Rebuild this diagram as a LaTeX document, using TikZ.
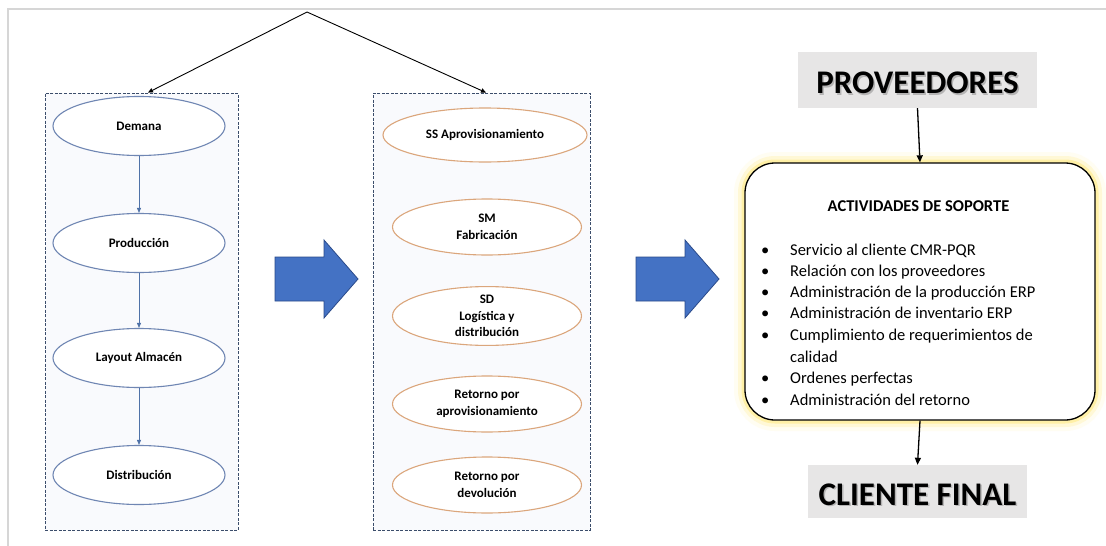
\documentclass[tikz,border=0pt]{standalone}
\usepackage{fontspec}
\setmainfont{Carlito}
\usetikzlibrary{arrows.meta,shapes.geometric}

\definecolor{framegray}{HTML}{D6D6D6}
\definecolor{dashcol}{HTML}{3B4D6B}
\definecolor{boxfill}{HTML}{F9FAFD}
\definecolor{lellcol}{HTML}{6F86B3}
\definecolor{lellarrow}{HTML}{4F72A8}
\definecolor{rellcol}{HTML}{DBA67C}
\definecolor{arrowfill}{HTML}{4472C4}
\definecolor{arrowdraw}{HTML}{2A4A8A}
\definecolor{grayfill}{HTML}{E7E6E6}
\definecolor{glowA}{HTML}{FFFDF2}
\definecolor{glowB}{HTML}{FFF8D6}
\definecolor{glowC}{HTML}{FFF0A6}

\tikzset{
  dashbox/.style={draw=dashcol, line width=0.9pt, dash pattern=on 3pt off 1.5pt,
    fill=boxfill, inner sep=0},
  lell/.style={ellipse, draw=lellcol, line width=1.1pt, fill=white,
    minimum width=172pt, minimum height=59pt, inner sep=0, align=center,
    font=\bfseries\fontsize{13}{16.5}\selectfont},
  rell/.style={ellipse, draw=rellcol, line width=1.1pt, fill=white,
    minimum width=189pt, minimum height=56pt, inner sep=0, align=center,
    font=\bfseries\fontsize{13}{16.5}\selectfont},
  flowarrow/.style={draw=lellarrow, line width=0.8pt, -{Triangle[length=5pt,width=4pt]}},
  toparrow/.style={draw=black, line width=0.9pt, -{Triangle[length=5pt,width=4.5pt]}},
  blockarrow/.style={fill=arrowfill, draw=arrowdraw, line width=0.8pt, line join=miter},
  graybox/.style={fill=grayfill, draw=none, inner sep=0},
  bigtitle/.style={font=\bfseries\fontsize{33}{36}\selectfont, inner sep=0},
  titleshadow/.style={bigtitle, text=black!45, opacity=0.55},
  vertarrow/.style={draw=black, line width=1.3pt, -{Triangle[length=7pt,width=6pt]}},
  soporte/.style={draw=black, line width=1.3pt, fill=white, rounded corners=30pt,
    minimum width=350pt, minimum height=257pt, inner sep=0},
  glow/.style={rounded corners=30pt, line width=#1},
  listtext/.style={anchor=base west, inner sep=0, font=\fontsize{16.5}{20}\selectfont},
}

\begin{document}
\begin{tikzpicture}[x=1pt, y=-1pt]
  \useasboundingbox (0,0) rectangle (1106,546);
  \fill[white] (0,0) rectangle (1106,546);

  % thin page frame on the top and left
  \draw[framegray, line width=2pt] (8,546) -- (8,9) -- (1106,9);

  % two dashed groups
  \node[dashbox, minimum width=193pt, minimum height=437pt] (lbox) at (141.5,311.5) {};
  \node[dashbox, minimum width=217pt, minimum height=437pt] (rbox) at (481.5,311.5) {};

  % splitting arrows from the top
  \coordinate (apex) at (307,12);
  \draw[toparrow] (apex) -- ([xshift=6.5pt]lbox.north);
  \draw[toparrow] (apex) -- ([xshift=4.5pt]rbox.north);

  % left chain
  \node[lell] (d1) at (139,126) {Demana};
  \node[lell] (d2) at (139,243) {Producción};
  \node[lell] (d3) at (139,358) {Layout Almacén};
  \node[lell] (d4) at (139,475) {Distribución};
  \draw[flowarrow] (d1) -- (d2);
  \draw[flowarrow] (d2) -- (d3);
  \draw[flowarrow] (d3) -- (d4);

  % right group
  \node[rell, minimum width=204pt, minimum height=54pt] (s1) at (485,135) {SS Aprovisionamiento};
  \node[rell] (s2) at (487,227) {SM\\Fabricación};
  \node[rell, minimum height=58pt] (s3) at (487,316) {SD\\Logística y\\distribución};
  \node[rell] (s4) at (487,404) {Retorno por\\aprovisionamiento};
  \node[rell] (s5) at (487,485) {Retorno por\\devolución};

  % block arrows between the columns
  \foreach \ax in {275,636}{
    \filldraw[blockarrow] (\ax,257) -- (\ax+49,257) -- (\ax+49,240) -- (\ax+83,279)
      -- (\ax+49,318) -- (\ax+49,301) -- (\ax,301) -- cycle;
  }

  % supplier and customer labels
  \node[graybox, minimum width=239pt, minimum height=56pt] (prov) at (917.5,80) {};
  \node[titleshadow] at (919,84.5) {PROVEEDORES};
  \node[bigtitle] (provtxt) at (917.5,83) {PROVEEDORES};

  \node[graybox, minimum width=219pt, minimum height=53pt] (cli) at (917.5,491.5) {};
  \node[titleshadow] at (919,496) {CLIENTE FINAL};
  \node[bigtitle] (clitxt) at (917.5,494.5) {CLIENTE FINAL};

  % glowing support box
  \draw[glow=22pt, glowA] (745,163) rectangle (1095,420);
  \draw[glow=14pt, glowB] (745,163) rectangle (1095,420);
  \draw[glow=7pt, glowC] (745,163) rectangle (1095,420);
  \node[soporte] (sop) at (920,291.5) {};

  \draw[vertarrow] (prov.south) -- (sop.north);
  \draw[vertarrow] (sop.south) -- (cli.north);

  \node[font=\bfseries\fontsize{16.5}{19}\selectfont, inner sep=0] (soptitle) at (918.5,206) {ACTIVIDADES DE SOPORTE};

  \foreach \yy/\txt in {250/Servicio al cliente CMR-PQR,
                        271/Relación con los proveedores,
                        292/Administración de la producción ERP,
                        313/Administración de inventario ERP,
                        335/Cumplimiento de requerimientos de,
                        378/Ordenes perfectas,
                        400/Administración del retorno}{
    \node[listtext] at (761,\yy+5.5) {•};
    \node[listtext] at (790,\yy+5.5) {\txt};
  }
  \node[listtext] (calidad) at (790,362) {calidad};
\end{tikzpicture}
\end{document}
